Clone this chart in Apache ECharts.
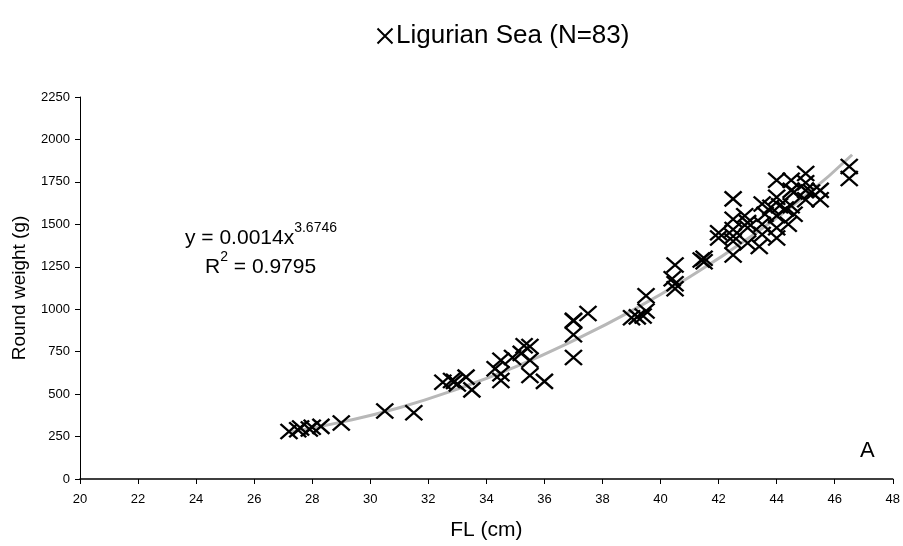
<!DOCTYPE html>
<html>
<head>
<meta charset="utf-8">
<script src="https://cdn.jsdelivr.net/npm/echarts@6/dist/echarts.min.js"></script>
<style>
    html, body { margin: 0; padding: 0; background: #fff; }
    #lwChart { width: 903px; height: 546px; }
</style>
</head>
<body>
<div id="lwChart"></div>
<script>
// fork length (cm) / round weight (g)
var flData = [27.2, 27.6, 27.9, 28.3, 29.0, 30.5, 31.5, 32.5, 32.9, 33.3,
    33.5, 34.5, 34.9, 35.3, 35.5, 34.5, 35.5, 36.0, 34.3, 35.2,
    37.0, 37.5, 37.0, 37.0, 39.0, 39.4, 39.5, 40.5, 40.5, 40.4,
    41.5, 42.0, 42.5, 42.5, 42.5, 42.5, 42.9, 43.0, 43.0, 43.4,
    43.5, 43.6, 44.0, 44.0, 44.1, 44.0, 44.0, 44.4, 44.5, 44.6,
    45.0, 45.0, 45.0, 45.5, 45.5, 46.5, 46.5, 44.6, 41.4, 39.5,
    42.5, 43.0, 43.5, 44.0, 44.5, 45.0, 27.5, 28.0, 34.5, 33.0,
    40.5, 43.5, 42.0, 44.5, 35.5, 37.0, 42.5, 43.8, 45.2, 44.3,
    32.8, 39.2, 41.5];
var weightData = [280, 300, 295, 310, 330, 400, 390, 570, 575, 600,
    525, 700, 715, 785, 700, 580, 610, 575, 650, 740,
    930, 975, 850, 715, 950, 960, 1080, 1260, 1120, 1180,
    1300, 1450, 1650, 1530, 1430, 1320, 1550, 1480, 1390, 1370,
    1620, 1560, 1760, 1660, 1610, 1480, 1420, 1500, 1760, 1560,
    1800, 1745, 1645, 1700, 1645, 1840, 1770, 1690, 1290, 990,
    1470, 1510, 1440, 1550, 1700, 1700, 290, 305, 620, 560,
    1150, 1500, 1420, 1610, 780, 935, 1400, 1600, 1690, 1590,
    580, 955, 1280];

// power trendline, points
var trendX = [27.2, 29, 31, 33, 35, 37, 39, 41, 43, 45, 46.6];
var trendY = [275, 335, 420, 530, 660, 815, 990, 1190, 1415, 1670, 1910];

var xTicks = { min: 20, max: 48, step: 2 };
var yTicks = { min: 0, max: 2250, step: 250 };

lengthWeight();
window.onresize = function () {
    lengthWeight();
};

function lengthWeight() {
    var chart = echarts.getInstanceByDom(document.getElementById('lwChart'))
        || echarts.init(document.getElementById('lwChart'));
    var points = [];
    for (var i = 0; i < flData.length; i++) {
        points.push([flData[i], weightData[i]]);
    }
    var trend = [];
    for (var j = 0; j < trendX.length; j++) {
        trend.push([trendX[j], trendY[j]]);
    }
    var font = '"Liberation Sans", Arial, sans-serif';
    var option = {
        backgroundColor: '#fff',
        animation: false,
        textStyle: { fontFamily: font, color: '#000' },
        legend: {
            left: 370,
            top: 18,
            itemWidth: 16,
            itemHeight: 15,
            itemGap: 4,
            data: ['Ligurian Sea (N=83)'],
            textStyle: { fontSize: 26, color: '#000', fontFamily: font, padding: [0, 0, 0, -2] }
        },
        grid: {
            left: 80,
            right: 5,
            top: 97,
            bottom: 61
        },
        xAxis: {
            type: 'value',
            min: xTicks.min,
            max: xTicks.max,
            interval: xTicks.step,
            name: 'FL (cm)',
            nameLocation: 'middle',
            nameGap: 41,
            nameTextStyle: { fontSize: 21, color: '#000', fontFamily: font },
            axisLine: { lineStyle: { color: '#000', width: 1.5 } },
            axisTick: { length: 5, lineStyle: { color: '#000' } },
            axisLabel: { fontSize: 13, color: '#000', margin: 14, fontFamily: font },
            splitLine: { show: false }
        },
        yAxis: {
            type: 'value',
            min: yTicks.min,
            max: yTicks.max,
            interval: yTicks.step,
            name: 'Round weight (g)',
            nameLocation: 'middle',
            nameGap: 51,
            nameTextStyle: { fontSize: 19, color: '#000', fontFamily: font },
            axisLine: { show: true, lineStyle: { color: '#000', width: 1 } },
            axisTick: { show: true, length: 5, lineStyle: { color: '#000' } },
            axisLabel: {
                fontSize: 13, color: '#000', margin: 10, fontFamily: font,
                formatter: function (v) { return String(v); }
            },
            splitLine: { show: false }
        },
        graphic: [{
            type: 'text',
            left: 185,
            top: 221,
            style: {
                text: '{a|y = 0.0014x}{b|3.6746}',
                rich: {
                    a: { fontSize: 21, fontFamily: font, fill: '#000', lineHeight: 28, verticalAlign: 'bottom' },
                    b: { fontSize: 14, fontFamily: font, fill: '#000', lineHeight: 28, verticalAlign: 'top' }
                }
            }
        }, {
            type: 'text',
            left: 205,
            top: 250,
            style: {
                text: '{a|R}{b|2}{a| = 0.9795}',
                rich: {
                    a: { fontSize: 21, fontFamily: font, fill: '#000', lineHeight: 28, verticalAlign: 'bottom' },
                    b: { fontSize: 14, fontFamily: font, fill: '#000', lineHeight: 28, verticalAlign: 'top' }
                }
            }
        }, {
            type: 'text',
            left: 860,
            top: 440,
            style: { text: 'A', fontSize: 22, fontFamily: font, fill: '#000' }
        }],
        series: [{
            name: 'trend',
            type: 'line',
            smooth: true,
            symbol: 'none',
            silent: true,
            lineStyle: { color: '#b8b8b8', width: 3 },
            data: trend,
            z: 1
        }, {
            name: 'Ligurian Sea (N=83)',
            type: 'scatter',
            symbol: 'path://M0,0L10,10M10,0L0,10',
            symbolSize: [17, 15],
            itemStyle: { color: 'none', borderColor: '#000', borderWidth: 2.3, opacity: 1 },
            data: points,
            z: 2
        }]
    };
    chart.setOption(option);
    return chart;
}
</script>
</body>
</html>
